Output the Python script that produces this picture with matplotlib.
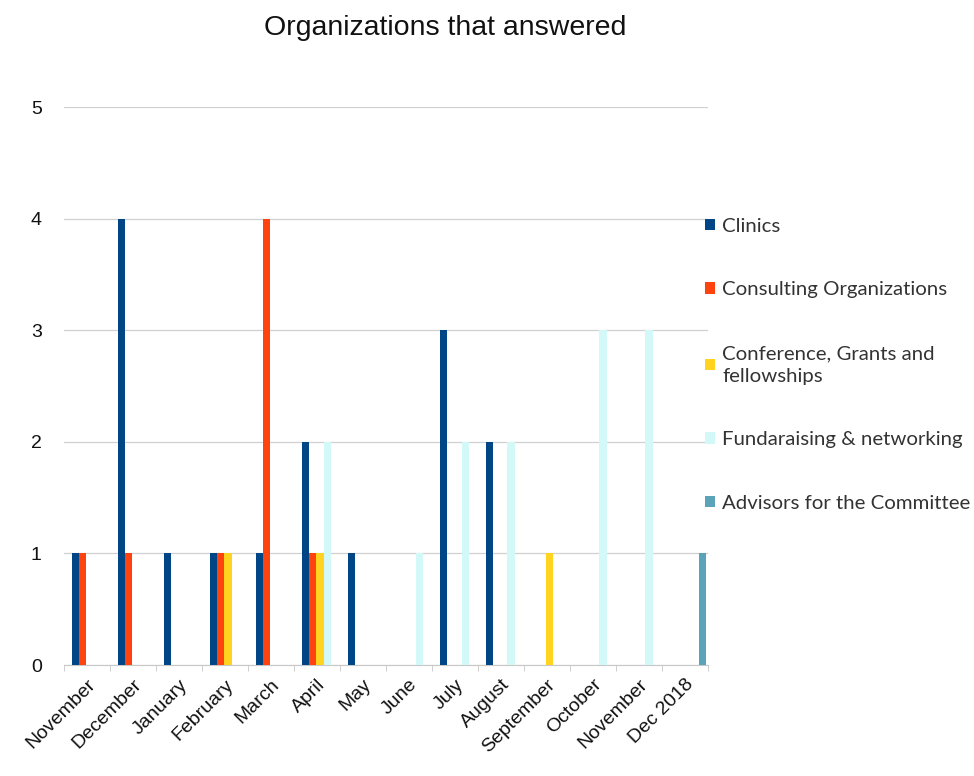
import matplotlib
matplotlib.use("Agg")
import matplotlib.pyplot as plt
import numpy as np

categories = ["November", "December", "January", "February", "March", "April", "May",
              "June", "July", "August", "September", "October", "November", "Dec 2018"]
series_names = ["Clinics", "Consulting Organizations", "Conference, Grants and\nfellowships",
                "Fundaraising & networking", "Advisors for the Committee"]
clinics      = [1, 4, 1, 1, 1, 2, 1, 0, 3, 2, 0, 0, 0, 0]
consulting   = [1, 1, 0, 1, 4, 1, 0, 0, 0, 0, 0, 0, 0, 0]
conference   = [0, 0, 0, 1, 0, 1, 0, 0, 0, 0, 1, 0, 0, 0]
fundraising  = [0, 0, 0, 0, 0, 2, 0, 1, 2, 2, 0, 3, 3, 0]
advisors     = [0, 0, 0, 0, 0, 0, 0, 0, 0, 0, 0, 0, 0, 1]
colors = ["#004586", "#ff420e", "#ffd320", "#d2f8f8", "#5aa3b8"]

data = [clinics, consulting, conference, fundraising, advisors]

fig = plt.figure(figsize=(9.74, 7.76), dpi=100)
ax = fig.add_axes([0.0657, 0.143, 0.661, 0.719])

x = np.arange(len(categories))
bw = 0.158
for i, (vals, name, c) in enumerate(zip(data, series_names, colors)):
    ax.bar(x + 0.5 - 0.33 + bw * i, vals, width=bw, align="edge", color=c, label=name,
           zorder=3, linewidth=0)

ax.set_xlim(0, len(categories))
ax.set_ylim(0, 5)
ax.set_yticks(range(6))
ax.set_yticklabels([str(v) for v in range(6)], fontsize=14, family="Liberation Sans",
                   color="#111111")
ax.tick_params(axis="y", length=0, pad=16)
ax.set_xticks(x + 0.5)
ax.set_xticklabels(categories, rotation=45, ha="right", rotation_mode="anchor",
                   fontsize=14, family="Liberation Sans", color="#111111")
ax.tick_params(axis="x", length=0, pad=8)
ax.set_xticks(np.arange(len(categories) + 1), minor=True)
ax.tick_params(axis="x", which="minor", length=4, color="#c8c8c8")
ax.grid(axis="y", color="#d0d0d0", linewidth=0.9, zorder=0)
for s in ["top", "right", "left"]:
    ax.spines[s].set_visible(False)
ax.spines["bottom"].set_color("#c8c8c8")

fig.text(0.457, 0.964, "Organizations that answered", ha="center", va="center",
         fontsize=20.5, family="Liberation Sans", color="#111111")

leg = ax.legend(loc="center left", bbox_to_anchor=(0.705, 0.53),
                bbox_transform=fig.transFigure, frameon=False,
                handlelength=0.5, handleheight=0.5, handletextpad=0.35,
                labelspacing=2.28, prop={"family": "Lato", "size": 14.7})
for t in leg.get_texts():
    t.set_color("#333333")
    t.set_linespacing(1.4)

fig.savefig("out.png", dpi=100)
